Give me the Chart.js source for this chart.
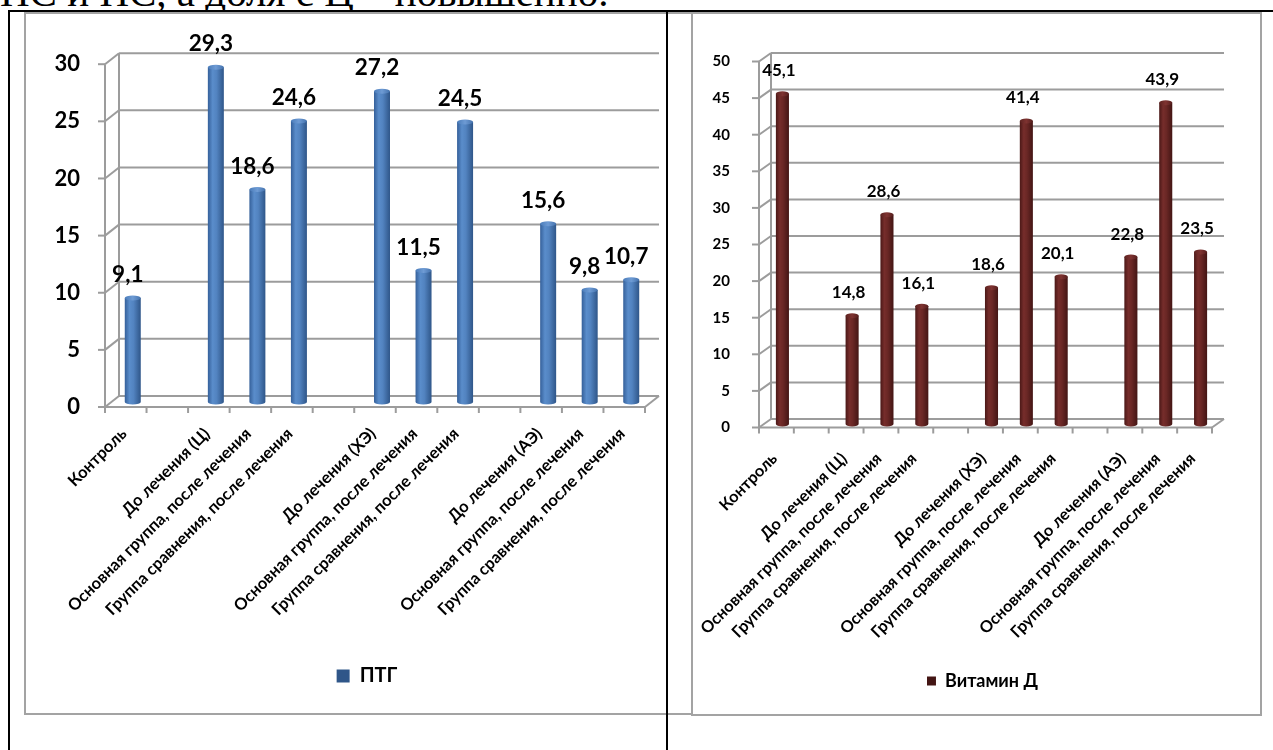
<!DOCTYPE html>
<html>
<head>
<meta charset="utf-8">
<script src="https://cdn.jsdelivr.net/npm/chart.js@4.4.1/dist/chart.umd.min.js"></script>
<style>
  html, body { margin: 0; padding: 0; background: #fff; }
  body { width: 1273px; height: 750px; overflow: hidden; position: relative; }
  .rule { position: absolute; background: #000; }
  .frame { position: absolute; box-sizing: border-box; border: 2px solid #a3a3a3; background: #fff; }
  canvas { position: absolute; }
  #lead {
    position: absolute; left: 0; top: -28px; white-space: nowrap; color: #000;
    font-family: 'Liberation Serif', 'Times New Roman', serif; font-size: 41px; line-height: 40px;
  }
</style>
</head>
<body>
<div id="lead">НС и НС, а доля с Ц – повышенно.</div>
<div class="frame" style="left:24px; top:12px; width:669px; height:703px"></div>
<div class="frame" style="left:691px; top:12px; width:571px; height:704px"></div>
<div class="rule" style="left:8px; top:10px; width:1265px; height:2px"></div>
<div class="rule" style="left:8px; top:10px; width:2px; height:740px"></div>
<div class="rule" style="left:666px; top:10px; width:2px; height:740px"></div>
<div id="leftBox" style="position:absolute; left:26px; top:14px; width:664px; height:698px"><canvas id="ptgChart"></canvas></div>
<div id="rightBox" style="position:absolute; left:693px; top:14px; width:567px; height:700px"><canvas id="vitChart"></canvas></div>

<script>
// Categories (empty strings are the gaps between the patient groups)
const categories = [
  'Контроль', '',
  'До лечения (Ц)', 'Основная группа, после лечения', 'Группа сравнения, после лечения', '',
  'До лечения (ХЭ)', 'Основная группа, после лечения', 'Группа сравнения, после лечения', '',
  'До лечения (АЭ)', 'Основная группа, после лечения', 'Группа сравнения, после лечения'
];

// Parathyroid hormone (ПТГ)
const ptgValues = [9.1, null, 29.3, 18.6, 24.6, null, 27.2, 11.5, 24.5, null, 15.6, 9.8, 10.7];
// Vitamin D
const vitaminDValues = [45.1, null, 14.8, 28.6, 16.1, null, 18.6, 41.4, 20.1, null, 22.8, 43.9, 23.5];

// Value axis ticks
const ptgTicks = [0, 5, 10, 15, 20, 25, 30];
const vitaminDTicks = [0, 5, 10, 15, 20, 25, 30, 35, 40, 45, 50];

const FONT = "Lato, 'Noto Sans', 'DejaVu Sans', sans-serif";

// Draws the pseudo-3D walls: back gridlines, side wall, floor and the front axes
const frame3d = {
  id: 'frame3d',
  beforeDatasetsDraw(chart, args, o) {
    const { ctx, chartArea: a, scales: { x, y } } = chart;
    const f = o.front, b = o.back;
    const line = (x1, y1, x2, y2) => { ctx.beginPath(); ctx.moveTo(x1, y1); ctx.lineTo(x2, y2); ctx.stroke(); };
    ctx.save();
    ctx.strokeStyle = o.color;
    ctx.lineWidth = o.lineWidth;
    const y0 = y.getPixelForValue(y.min), yTop = y.getPixelForValue(y.max);
    y.ticks.forEach(t => {
      const py = y.getPixelForValue(t.value);
      line(a.left + b.dx, py + b.dy, a.right + b.dx, py + b.dy);
      line(a.left + f.dx, py + f.dy, a.left + b.dx, py + b.dy);
      line(a.left + f.dx - o.tickLen, py + f.dy, a.left + f.dx, py + f.dy);
    });
    line(a.left + b.dx, y0 + b.dy, a.left + b.dx, yTop + b.dy);
    line(a.left + f.dx, y0 + f.dy, a.left + f.dx, yTop + f.dy);
    line(a.left + f.dx, y0 + f.dy, a.right + f.dx, y0 + f.dy);
    line(a.right + f.dx, y0 + f.dy, a.right + b.dx, y0 + b.dy);
    for (let i = 0; i <= x.ticks.length; i++) {
      const px = x.getPixelForValue(i - 0.5) + f.dx;
      line(px, y0 + f.dy, px, y0 + f.dy + o.tickLen - 1);
    }
    ctx.restore();
  }
};

// Moves the legend sideways so it sits under the plot rather than the canvas centre
const legendShift = {
  id: 'legendShift',
  afterLayout(chart, args, o) {
    const lg = chart.legend;
    if (!lg || !o.dx) return;
    lg.left += o.dx;
    lg.right += o.dx;
  }
};

function gradientAcross(ctx, cx, w, stops, fallback) {
  if (!isFinite(cx) || !isFinite(w) || w <= 0) return fallback;
  const g = ctx.createLinearGradient(cx - w / 2, 0, cx + w / 2, 0);
  stops.forEach(([p, col]) => g.addColorStop(p, col));
  return g;
}

// Elliptical caps that turn the bars into cylinders
const cylinderCaps = {
  id: 'cylinderCaps',
  afterDatasetsDraw(chart, args, o) {
    const { ctx } = chart;
    chart.data.datasets.forEach((ds, di) => {
      chart.getDatasetMeta(di).data.forEach((bar, i) => {
        if (ds.data[i] == null || !isFinite(bar.x)) return;
        const rx = bar.width / 2;
        ctx.save();
        ctx.fillStyle = gradientAcross(ctx, bar.x, bar.width, o.side, o.base);
        ctx.beginPath();
        ctx.ellipse(bar.x, bar.base, rx, o.ry, 0, 0, Math.PI);
        ctx.fill();
        ctx.fillStyle = gradientAcross(ctx, bar.x, bar.width, o.top, o.base);
        ctx.beginPath();
        ctx.ellipse(bar.x, bar.y, rx, o.ry, 0, 0, Math.PI * 2);
        ctx.fill();
        ctx.restore();
      });
    });
  }
};

// Value labels above the bars, with a decimal comma
const valueLabels = {
  id: 'valueLabels',
  afterDatasetsDraw(chart, args, o) {
    const { ctx } = chart;
    chart.data.datasets.forEach((ds, di) => {
      chart.getDatasetMeta(di).data.forEach((bar, i) => {
        const v = ds.data[i];
        if (v == null || !isFinite(bar.x)) return;
        ctx.save();
        ctx.font = o.font;
        ctx.fillStyle = '#000';
        ctx.textAlign = 'center';
        ctx.textBaseline = 'middle';
        ctx.fillText(v.toFixed(1).replace('.', ','), bar.x + o.dx, bar.y + o.dy);
        ctx.restore();
      });
    });
  }
};

function cylinderFill(stops, base, barPct) {
  return (c) => {
    const chart = c.chart, xs = chart.scales && chart.scales.x;
    if (c.type !== 'data' || !xs) return base;
    const cx = xs.getPixelForValue(c.dataIndex);
    const w = xs.width / chart.data.labels.length * barPct;
    return gradientAcross(chart.ctx, cx, w, stops, base);
  };
}

function makeChart(canvasId, cfg) {
  return new Chart(document.getElementById(canvasId), {
    type: 'bar',
    data: {
      labels: categories,
      datasets: [{
        label: cfg.name,
        data: cfg.values,
        backgroundColor: cylinderFill(cfg.side, cfg.color, cfg.barPct),
        borderWidth: 0,
        barPercentage: cfg.barPct,
        categoryPercentage: 1
      }]
    },
    options: {
      responsive: true,
      maintainAspectRatio: false,
      animation: false,
      events: [],
      layout: { padding: cfg.padding },
      scales: {
        x: {
          grid: { display: false, drawTicks: false },
          border: { display: false },
          ticks: {
            autoSkip: false, minRotation: 45, maxRotation: 45,
            padding: cfg.xPad, labelOffset: cfg.xLabelOffset,
            color: '#000', font: { family: FONT, size: cfg.xFont, weight: 'bold' }
          },
          afterFit: s => { s.height = cfg.xHeight; }
        },
        y: {
          min: 0, max: cfg.ticks[cfg.ticks.length - 1],
          grid: { display: false, drawTicks: false },
          border: { display: false },
          afterBuildTicks: s => { s.ticks = cfg.ticks.map(v => ({ value: v })); },
          ticks: {
            padding: cfg.yPad, labelOffset: cfg.yLabelOffset,
            color: '#000', font: { family: FONT, size: cfg.yFont, weight: 'bold' }
          },
          afterFit: s => { s.width = cfg.yWidth; }
        }
      },
      plugins: {
        legend: {
          position: 'bottom',
          labels: {
            color: '#000', boxWidth: cfg.legendBox, boxHeight: cfg.legendBox, padding: 10,
            font: { family: FONT, size: cfg.legendFont, weight: 'bold' }
          }
        },
        legendShift: { dx: cfg.legendShift },
        tooltip: { enabled: false },
        frame3d: { front: cfg.front, back: cfg.back, color: '#9c9c9c', lineWidth: 2, tickLen: 7 },
        cylinderCaps: { ry: 2.5, side: cfg.side, top: cfg.top, base: cfg.color },
        valueLabels: { font: `bold ${cfg.labelFont}px ${FONT}`, dx: cfg.labelDx, dy: cfg.labelDy }
      }
    },
    plugins: [frame3d, legendShift, cylinderCaps, valueLabels]
  });
}

makeChart('ptgChart', {
  name: 'ПТГ', values: ptgValues, ticks: ptgTicks,
  color: '#4f81bd',
  side: [[0, '#35609a'], [0.3, '#5a8dcb'], [0.55, '#5283c0'], [1, '#2f5689']],
  top: [[0, '#4a7cba'], [0.5, '#6e9bd4'], [1, '#4472ad']],
  barPct: 0.385,
  padding: { left: 0, right: 38, top: 41, bottom: 16 },
  yWidth: 86, yPad: 32, yLabelOffset: 5, yFont: 22,
  xHeight: 254, xPad: 22, xLabelOffset: -9, xFont: 16.5,
  legendBox: 13, legendFont: 20, legendShift: 28,
  front: { dx: -7, dy: 5 }, back: { dx: 7, dy: -6 },
  labelFont: 22.5, labelDx: -5, labelDy: -23
});

makeChart('vitChart', {
  name: 'Витамин Д', values: vitaminDValues, ticks: vitaminDTicks,
  color: '#632523',
  side: [[0, '#4a1817'], [0.3, '#762d2b'], [0.55, '#6a2725'], [1, '#431514']],
  top: [[0, '#5c2220'], [0.5, '#7f3331'], [1, '#551e1d']],
  barPct: 0.375,
  padding: { left: 0, right: 42, top: 41.5, bottom: 14 },
  yWidth: 72, yPad: 35, yLabelOffset: 3.5, yFont: 15,
  xHeight: 238, xPad: 25, xLabelOffset: -8, xFont: 16.3,
  legendBox: 9, legendFont: 18, legendShift: 27,
  front: { dx: -6, dy: 3.5 }, back: { dx: 6, dy: -5 },
  labelFont: 17, labelDx: -3.5, labelDy: -23
});
</script>
</body>
</html>
